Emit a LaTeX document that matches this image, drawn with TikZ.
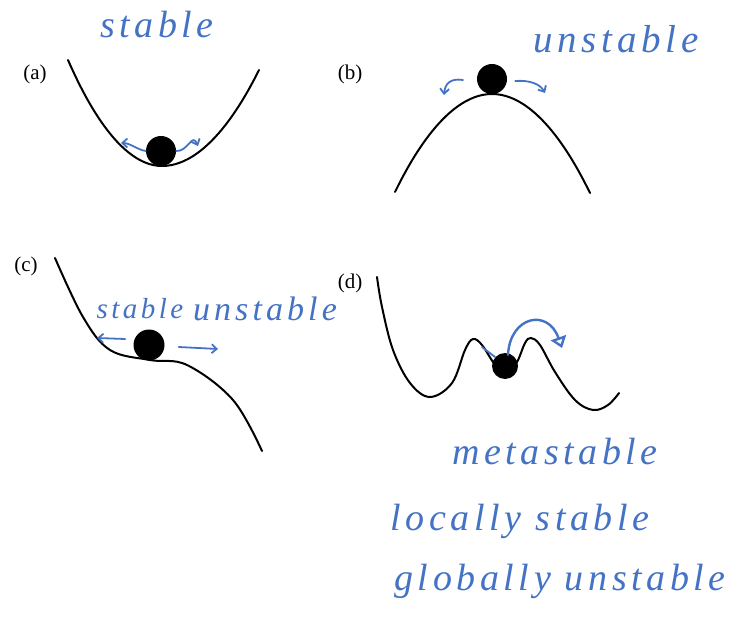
\documentclass[tikz,border=0pt]{standalone}
\usepackage{fontspec}
\setmainfont{Liberation Serif}
\newfontfamily\handfont[LetterSpace=12]{Liberation Serif}
\usetikzlibrary{arrows.meta}
\definecolor{inkBlue}{RGB}{68,114,196}

\begin{document}
\begin{tikzpicture}[x=1pt, y=-1pt,
    % Define the style for the potential curves
    curveStyle/.style={
        draw=black,
        line width=2pt,
        line cap=round
    },
    % Define the style for the balls
    ballNode/.style={
        circle,
        fill=black,
        inner sep=0pt,
        minimum size=30pt
    },
    % Define the style for the panel letters
    panelLabel/.style={
        font=\fontsize{21}{24}\selectfont
    },
    % Define the style for the handwritten notes
    noteLabel/.style={
        text=inkBlue,
        anchor=base,
        inner sep=0pt,
        font=\handfont\itshape\fontsize{38}{40}\selectfont
    },
    % Define the style for the small blue arrows
    inkArrow/.style={
        draw=inkBlue,
        line width=1.8pt,
        line cap=round,
        -{Straight Barb[length=5pt, width=9pt]}
    }
]
    \useasboundingbox (0,0) rectangle (746,617);

    % --- PANEL LETTERS ---
    \foreach \pos/\name in {(35,74)/a, (350,74)/b, (26,266)/c, (350,283)/d} {
        \node[panelLabel] (L\name) at \pos {(\name)};
    }

    % --- CURVES ---
    % (a) stable well
    \draw[curveStyle] (68,60) parabola bend (162,166) (259,70);
    % (b) unstable hill
    \draw[curveStyle] (395,192) parabola bend (492,94) (590,193);
    % (c) inflection
    \draw[curveStyle] plot[smooth, tension=0.6] coordinates {
        (55,258) (83,317) (110,350) (150,360) (187,365) (233,400) (262,451)};
    % (d) double well with a small dip
    \draw[curveStyle] plot[smooth, tension=0.6] coordinates {
        (377,277) (382,307) (393,350) (410,383) (430,397) (452,383)
        (465,350) (473,339) (482,345) (493,362) (505,377) (517,362)
        (525,343) (531,338) (540,345) (555,372) (575,400) (593,410)
        (608,405) (619,393)};

    % --- BALLS ---
    \node[ballNode] (ballA) at (161,151) {};
    \node[ballNode] (ballB) at (492,79) {};
    \node[ballNode, minimum size=31pt] (ballC) at (149,345) {};
    \node[ballNode, minimum size=26pt] (ballD) at (505,366) {};

    % --- ARROW ENDS ---
    \coordinate (tipAl) at (121,143);
    \coordinate (tipAr) at (198,146);
    \coordinate (tipBl) at (444,95);
    \coordinate (tipBr) at (545,93);
    \coordinate (tipCl) at (97,338);
    \coordinate (tipCr) at (218,349);
    \coordinate (tipD) at (562,348);

    % --- ARROWS ---
    \draw[inkArrow] (ballA.west) .. controls (138,150) and (130,143) .. (tipAl);
    \draw[inkArrow] (ballA.east) .. controls (188,152) and (192,132) .. (tipAr);
    \draw[inkArrow] (463,80) .. controls (450,78) and (445,84) .. (tipBl);
    \draw[inkArrow] (ballB.east) ++(8,2) .. controls (530,80) and (540,84) .. (tipBr);
    \draw[inkArrow] (ballC.west) ++(-8,-6) -- (tipCl);
    \draw[inkArrow] (ballC.east) ++(14,2) -- (tipCr);
    \draw[inkArrow, line width=2.4pt, -{Triangle[open, length=11pt, width=16pt]}]
        (ballD.north) ++(3,2) .. controls (510,316) and (548,308) .. (tipD);
    \draw[draw=inkBlue, line width=1.8pt, line cap=round] (482,347) -- (495,357);

    % --- NOTES ---
    \node[noteLabel] (noteA) at (157,38) {stable};
    \node[noteLabel, font=\handfont\itshape\fontsize{39}{40}\selectfont] (noteB) at (616,53) {unstable};
    \node[noteLabel, font=\handfont\itshape\fontsize{29}{30}\selectfont] (noteCs) at (140,318) {stable};
    \node[noteLabel, font=\handfont\itshape\fontsize{34}{36}\selectfont] (noteCu) at (265,320) {unstable};
    \node[noteLabel] (noteMeta) at (555,464) {metastable};
    \node[noteLabel] (noteLoc) at (520,530) {locally stable};
    \node[noteLabel] (noteGlob) at (560,590) {globally unstable};

\end{tikzpicture}
\end{document}
